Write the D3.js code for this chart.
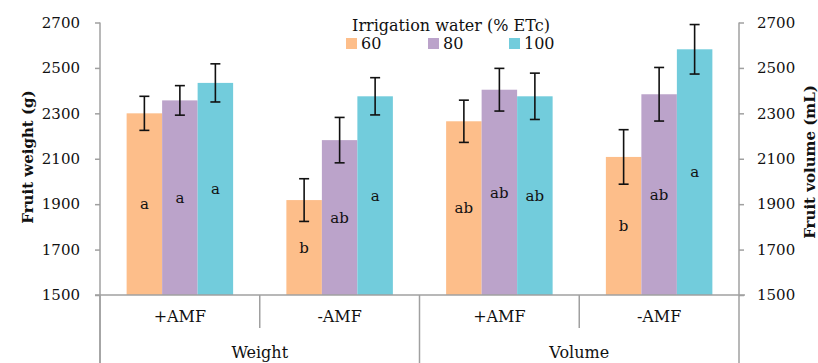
<!DOCTYPE html>
<html>
<head>
<meta charset="utf-8">
<script src="https://cdn.jsdelivr.net/npm/d3@7"></script>
<style>
  body { margin: 0; background: #fff; }
  text { font-family: "DejaVu Serif", serif; fill: #111; }
</style>
</head>
<body>
<svg id="chart"></svg>
<script>
const measures = ["Weight", "Volume"];
const treatments = ["+AMF", "-AMF"];
const series = ["60", "80", "100"];
const colors = ["#FDBE8A", "#BBA3CA", "#72CCDC"];

// values per group: Weight +AMF, Weight -AMF, Volume +AMF, Volume -AMF
const v60 = [2300, 1918, 2265, 2108];
const v80 = [2357, 2182, 2404, 2384];
const v100 = [2434, 2375, 2375, 2582];
const err60 = [75, 94, 93, 120];
const err80 = [65, 100, 94, 118];
const err100 = [84, 82, 102, 109];
const letters60 = ["a", "b", "ab", "b"];
const letters80 = ["a", "ab", "ab", "ab"];
const letters100 = ["a", "a", "ab", "a"];
const yTicks = [1500, 1700, 1900, 2100, 2300, 2500, 2700];

const width = 818, height = 363;
const plotLeft = 100, plotRight = 739, plotBottom = 295, plotTop = 22.5;
const axisColor = "#a0a0a0";

const groups = [];
measures.forEach(m => treatments.forEach(t => groups.push(m + "|" + t)));

const values = [v60, v80, v100];
const errs = [err60, err80, err100];
const letters = [letters60, letters80, letters100];

const data = [];
groups.forEach((g, gi) => {
  series.forEach((s, si) => {
    data.push({group: g, series: s, si, value: values[si][gi], err: errs[si][gi], letter: letters[si][gi]});
  });
});

const svg = d3.select("#chart").attr("width", width).attr("height", height);

const x0 = d3.scaleBand().domain(groups).range([plotLeft, plotRight]).paddingInner(0).paddingOuter(0);
const x1 = d3.scaleBand().domain(series).range([0, x0.bandwidth()]).paddingInner(0).paddingOuter(0.75);
const y = d3.scaleLinear().domain([1500, 2700]).range([plotBottom, plotTop]);

// bars
svg.append("g")
  .selectAll("rect")
  .data(data)
  .join("rect")
    .attr("x", d => x0(d.group) + x1(d.series))
    .attr("y", d => y(d.value))
    .attr("width", x1.bandwidth())
    .attr("height", d => y(1500) - y(d.value))
    .attr("fill", d => colors[d.si]);

// letters inside bars
svg.append("g")
  .attr("font-size", 15)
  .attr("text-anchor", "middle")
  .selectAll("text")
  .data(data)
  .join("text")
    .attr("x", d => x0(d.group) + x1(d.series) + x1.bandwidth() / 2)
    .attr("y", d => (y(d.value) + y(1500)) / 2)
    .attr("dy", "0.35em")
    .text(d => d.letter);

// error bars
const eb = svg.append("g").attr("stroke", "#111").attr("stroke-width", 1.6)
  .selectAll("g")
  .data(data)
  .join("g")
    .attr("transform", d => `translate(${x0(d.group) + x1(d.series) + x1.bandwidth() / 2},0)`);
eb.append("line").attr("y1", d => y(d.value + d.err)).attr("y2", d => y(d.value - d.err));
eb.append("line").attr("x1", -5).attr("x2", 5).attr("y1", d => y(d.value + d.err)).attr("y2", d => y(d.value + d.err));
eb.append("line").attr("x1", -5).attr("x2", 5).attr("y1", d => y(d.value - d.err)).attr("y2", d => y(d.value - d.err));

// left axis
const yl = svg.append("g")
  .attr("transform", `translate(${plotLeft},0)`)
  .call(d3.axisLeft(y).tickValues(yTicks).tickFormat(d3.format("d")).tickSize(5).tickSizeOuter(0).tickPadding(15));
// right axis
const yr = svg.append("g")
  .attr("transform", `translate(${plotRight},0)`)
  .call(d3.axisRight(y).tickValues(yTicks).tickFormat(d3.format("d")).tickSize(5).tickSizeOuter(0).tickPadding(13));
[yl, yr].forEach(a => {
  a.select(".domain").attr("stroke", axisColor).attr("stroke-width", 1.5);
  a.selectAll(".tick line").attr("stroke", axisColor).attr("stroke-width", 1.5);
  a.selectAll(".tick text").attr("font-family", "DejaVu Serif").attr("font-size", 15).attr("fill", "#111");
});
yl.select(".domain").attr("d", `M0,${plotTop}V${height}`);
yr.select(".domain").attr("d", `M0,${plotTop}V${height}`);

// baseline
svg.append("line")
  .attr("x1", plotLeft - 5).attr("x2", plotRight + 6)
  .attr("y1", plotBottom).attr("y2", plotBottom)
  .attr("stroke", axisColor).attr("stroke-width", 1.5);

// category separators
const xm = d3.scaleBand().domain(measures).range([plotLeft, plotRight]);
svg.append("g")
  .selectAll("line")
  .data(groups)
  .join("line")
    .attr("x1", d => x0(d)).attr("x2", d => x0(d))
    .attr("y1", plotBottom)
    .attr("y2", d => d.endsWith("-AMF") ? 328 : height)
    .attr("stroke", axisColor).attr("stroke-width", 1.5);

// category labels
svg.append("g")
  .attr("font-size", 16)
  .attr("text-anchor", "middle")
  .selectAll("text")
  .data(groups)
  .join("text")
    .attr("x", d => x0(d) + x0.bandwidth() / 2)
    .attr("y", 316)
    .attr("dy", "0.35em")
    .text(d => d.split("|")[1]);
svg.append("g")
  .attr("font-size", 16)
  .attr("text-anchor", "middle")
  .selectAll("text")
  .data(measures)
  .join("text")
    .attr("x", d => xm(d) + xm.bandwidth() / 2)
    .attr("y", 352)
    .attr("dy", "0.35em")
    .text(d => d);

// axis titles
svg.append("text")
  .attr("transform", "translate(28,157) rotate(-90)")
  .attr("text-anchor", "middle").attr("dy", "0.35em")
  .attr("font-size", 15).attr("font-weight", "bold")
  .text("Fruit weight (g)");
svg.append("text")
  .attr("transform", "translate(810,162) rotate(-90)")
  .attr("text-anchor", "middle").attr("dy", "0.35em")
  .attr("font-size", 15).attr("font-weight", "bold")
  .text("Fruit volume (mL)");

// legend
svg.append("text")
  .attr("x", 451).attr("y", 25).attr("dy", "0.35em")
  .attr("text-anchor", "middle").attr("font-size", 16)
  .text("Irrigation water (% ETc)");
const legX = [346, 428, 509];
const leg = svg.append("g")
  .selectAll("g")
  .data(series)
  .join("g")
    .attr("transform", (d, i) => `translate(${legX[i]},38)`);
leg.append("rect").attr("width", 11).attr("height", 11).attr("fill", (d, i) => colors[i]);
leg.append("text").attr("x", 15).attr("y", 5.5).attr("dy", "0.35em").attr("font-size", 16).text(d => d);
</script>
</body>
</html>
